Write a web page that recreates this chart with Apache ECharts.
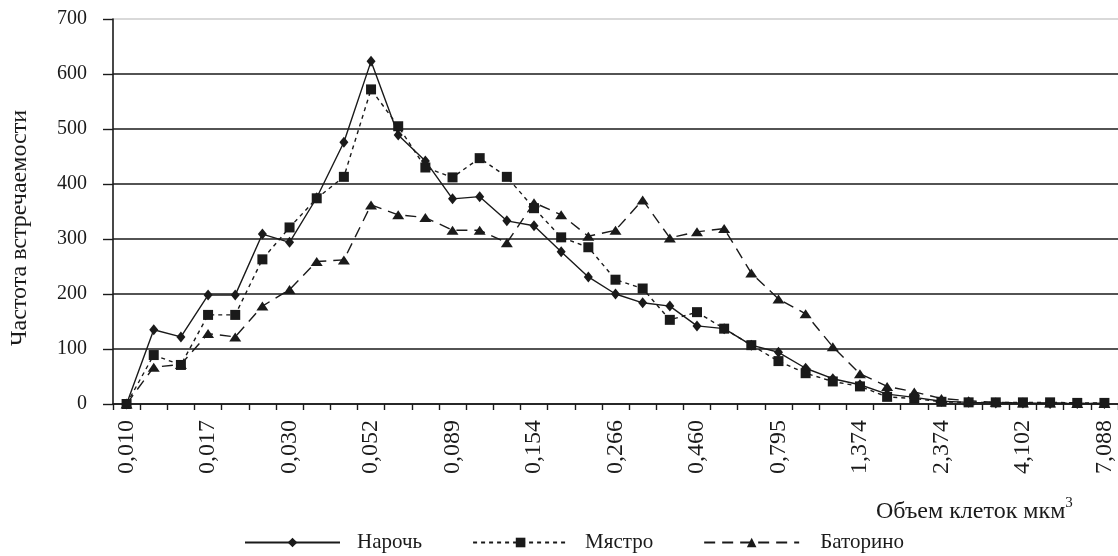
<!DOCTYPE html>
<html>
<head>
<meta charset="utf-8">
<script src="https://cdn.jsdelivr.net/npm/echarts@6/dist/echarts.min.js"></script>
<style>
html,body{margin:0;padding:0;background:#fff;}
#chart{width:1118px;height:556px;}
</style>
</head>
<body>
<div id="chart"></div>
<script>
const categories = ['0,010','0,012','0,014','0,017','0,021','0,025','0,030','0,036','0,043','0,052','0,062','0,074','0,089','0,107','0,128','0,154','0,185','0,222','0,266','0,319','0,383','0,460','0,552','0,662','0,795','0,954','1,145','1,374','1,648','1,978','2,374','2,849','3,418','4,102','4,922','5,907','7,088'];
const naroch = [0,135,122,198,198,309,294,375,476,623,489,442,373,377,333,324,277,231,200,184,178,142,137,107,94,65,46,35,18,12,5,3,2,2,1,1,1];
const myastro = [0,89,71,162,162,263,321,374,413,572,505,430,412,447,413,356,303,285,226,210,153,167,137,107,78,56,41,32,13,10,4,3,3,3,3,2,2];
const batorino = [0,67,72,128,122,178,208,259,262,362,344,339,316,316,293,366,344,305,316,371,302,313,319,238,191,164,104,55,32,22,10,6,3,2,2,1,1];
const yTicks = [0,100,200,300,400,500,600,700];
const seriesNames = ['Нарочь','Мястро','Баторино'];

const FONT = "'Liberation Serif','Times New Roman',serif";
const INK = '#1a1a1a';
const chart = echarts.init(document.getElementById('chart'));
chart.setOption({
  animation:false,
  backgroundColor:'#fff',
  grid:{left:113,right:0,top:19,bottom:152,containLabel:false},
  xAxis:{
    type:'category',
    data:categories,
    boundaryGap:true,
    axisLine:{lineStyle:{color:INK,width:1.6}},
    axisTick:{show:true,interval:0,length:6,lineStyle:{color:INK,width:1.4}},
    axisLabel:{interval:2,rotate:90,margin:16,color:INK,fontFamily:FONT,fontSize:24},
    splitLine:{show:false}
  },
  yAxis:{
    type:'value',
    min:yTicks[0],max:yTicks[yTicks.length-1],interval:100,
    axisLine:{show:true,lineStyle:{color:INK,width:1.6}},
    axisTick:{show:true,length:10,lineStyle:{color:INK,width:1.4}},
    axisLabel:{margin:26,color:INK,fontFamily:FONT,fontSize:20},
    splitLine:{show:true,lineStyle:{color:[INK,INK,INK,INK,INK,INK,INK,'#cccccc'],width:1.6}}
  },
  legend:{
    left:244,top:532,padding:0,
    itemWidth:95,itemHeight:12,itemGap:50,
    textStyle:{color:INK,fontFamily:FONT,fontSize:21},
    data:[
      {name:seriesNames[0],textStyle:{padding:[0,5,0,12]}},
      {name:seriesNames[1],textStyle:{padding:[0,19,0,12]}},
      {name:seriesNames[2],textStyle:{padding:[0,0,0,16]}}
    ]
  },
  title:{
    text:'{a|Объем клеток мкм}{s|3}',
    left:871,top:491,
    textStyle:{fontWeight:'normal',rich:{
      a:{fontFamily:FONT,fontSize:24,fontWeight:'normal',color:INK,lineHeight:28,verticalAlign:'bottom'},
      s:{fontFamily:FONT,fontSize:15,fontWeight:'normal',color:INK,lineHeight:28,verticalAlign:'top'}
    }}
  },
  graphic:[{
    type:'text',x:20,y:228,rotation:Math.PI/2,
    style:{text:'Частота встречаемости',fontFamily:FONT,fontSize:24,fill:INK,align:'center',verticalAlign:'middle'}
  }],
  series:[
    {name:seriesNames[0],type:'line',data:naroch,symbol:'diamond',symbolSize:[9,11],
     lineStyle:{color:INK,width:1.4,type:'solid'},itemStyle:{color:INK},z:4},
    {name:seriesNames[1],type:'line',data:myastro,symbol:'rect',symbolSize:10,
     lineStyle:{color:INK,width:1.4,type:[4,4]},itemStyle:{color:INK},z:3},
    {name:seriesNames[2],type:'line',data:batorino,symbol:'triangle',symbolSize:[12,9],
     lineStyle:{color:INK,width:1.4,type:[11,7]},itemStyle:{color:INK},z:2}
  ]
});
</script>
</body>
</html>
